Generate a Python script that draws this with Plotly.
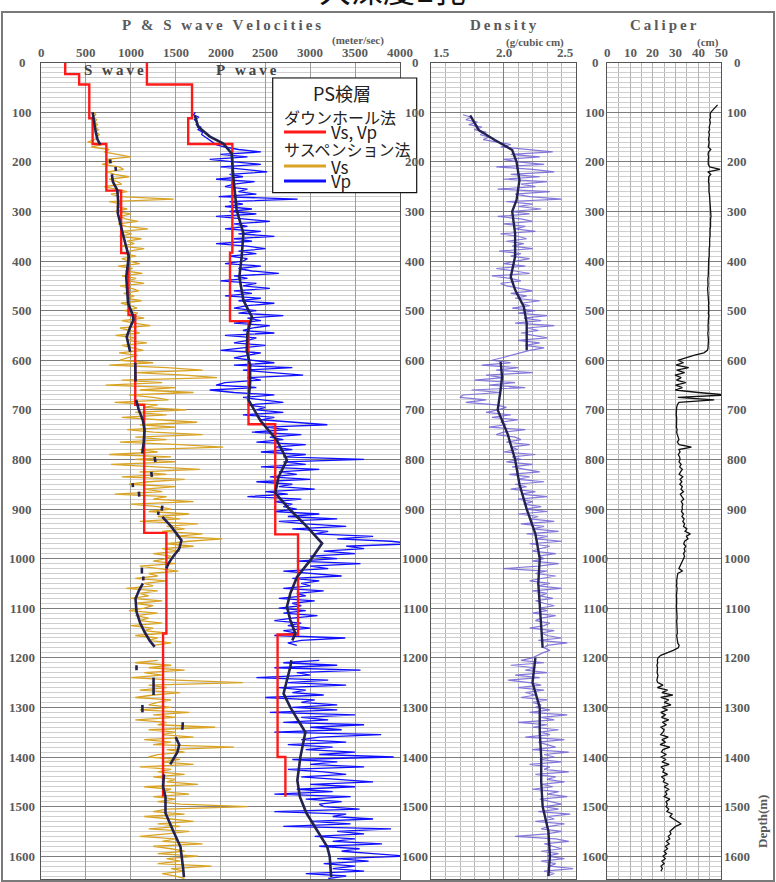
"""Well log panel: P & S wave velocities, density and caliper against depth."""

import plotly.graph_objects as go

W, H = 776, 882

# ---------------------------------------------------------------- data
DEPTH_TICKS = list(range(0, 1700, 100))
VEL_TICKS = [0, 500, 1000, 1500, 2000, 2500, 3000, 3500, 4000]
DENS_TICKS = [1.5, 2.0, 2.5]
CAL_TICKS = [0, 10, 20, 30, 40, 50]

# downhole method (layer tops, velocity of each layer, bottom of last layer)
DH_VS_TOPS = [0, 23, 44, 112, 164, 258, 384, 509, 690, 948, 1151, 1480]
DH_VS = [270, 425, 538, 575, 728, 893, 975, 1050, 1150, 1397, 1360, 1360]
DH_VP_TOPS = [0, 44, 112, 164, 383, 521, 729, 951, 1153, 1400, 1480]
DH_VP = [1180, 1683, 1640, 2132, 2106, 2312, 2610, 2864, 2636, 2723, 2723]

# suspension method, sampled every 5 m from 100 m
RAW_DEPTH = list(range(100, 1650, 5))
VS_RAW = [
    590, 610, 580, 620, 600, 630, 595, 640, 610, 650, 620, 600, 520, 680, 560, 760, 700, 860, 1000, 730,
    800, 680, 870, 920, 740, 820, 980, 760, 850, 900, 700, 830, 960, 780, 880, 1480, 760, 900, 840, 960,
    820, 1000, 880, 940, 1080, 860, 950, 1190, 900, 1010, 870, 1120, 960, 1040, 890, 1150, 980, 930, 1060, 900,
    980, 1100, 860, 1020, 940, 1130, 900, 1060, 970, 1150, 880, 1010, 1090, 920, 1040, 960, 1120, 890, 1000, 1070,
    930, 1080, 1000, 1150, 900, 1040, 1220, 880, 990, 1100, 830, 1060, 950, 1180, 900, 1010, 1140, 870, 1080, 960,
    880, 1250, 760, 1400, 1800, 1050, 1600, 1960, 900, 1350, 720, 1500, 1100, 1700, 980, 1250, 1420, 820, 1300, 1150,
    1620, 1050, 1400, 900, 1300, 1740, 1100, 1500, 960, 1250, 1800, 1050, 1400, 880, 1550, 2030, 1100, 1300, 760, 1450,
    1050, 1500, 780, 1300, 1770, 1100, 1400, 900, 1600, 1200, 980, 1500, 1150, 1350, 820, 1400, 1250, 1700, 1000, 1300,
    1450, 1200, 1650, 1300, 1550, 1100, 1750, 1400, 1600, 1350, 1800, 1500, 2020, 1650, 1400, 1700, 1350, 1550, 1250, 1450,
    1400, 1250, 1500, 1100, 1350, 1530, 1200, 1300, 1050, 1400, 1150, 1250, 950, 1300, 1100, 1200, 1000, 1350, 1050, 1250,
    1150, 980, 1300, 1050, 1200, 1100, 1350, 1000, 1250, 1150, 1400, 1050, 1300, 1200, 1450, 1250, None, None, None, None,
    None, 1300, 1050, 1450, 1200, 1600, 1150, 1350, 1000, 1500, 2250, 1200, 1400, 1100, 1550, 1250, 1050, 1450, 1300, 1200,
    1450, 1100, 1650, 1250, 1500, 1050, 1400, 1300, 1940, 1200, 1500, 1350, 1700, 1150, 1450, 1250, 2150, 1400, 1600, 1300,
    1200, 1550, 1350, 1700, 1100, 1450, 1300, 1600, 1250, 1500, 1400, 1750, 1150, 1450, 1350, 1650, 1250, 1500, 1300, 1550,
    2300, 1400, 1250, 1600, 1150, 1450, 1700, 1300, 1550, 1200, 1650, 1400, 1100, 1500, 1350, 1800, 1250, 1450, 1600, 1300,
    1750, 1400, 1550, 1300, 1900, 1450, 1600, 1350, 1500, 1600,
]
VP_RAW = [
    1720, 1700, 1760, 1710, 1740, 1730, 1780, 1750, 1800, 1790, 1830, 1870, 1900, 1950, 2050, 2200, 2450, 2000, 2300, 1880,
    2150, 2450, 2000, 2300, 2520, 2100, 2250, 1950, 2380, 2150, 2050, 2300, 2200, 2400, 1980, 2860, 2100, 2250, 2050, 2350,
    2100, 2400, 1950, 2250, 2550, 2150, 2300, 2050, 2450, 2200, 2600, 2150, 2350, 1950, 2300, 2500, 2200, 2400, 2100, 2300,
    2250, 2050, 2450, 2200, 2350, 2650, 2150, 2300, 2000, 2400, 2250, 2550, 2150, 2350, 2050, 2450, 2200, 2600, 2300, 2150,
    2400, 2200, 2700, 2300, 2450, 2150, 2550, 2350, 2250, 2600, 2050, 2400, 2300, 2150, 2500, 2250, 2000, 2450, 2300, 2150,
    2350, 2600, 2150, 2800, 2250, 2550, 2920, 2300, 2450, 2050, 1950, 2400, 1880, 2150, 2600, 2250, 2450, 2700, 2300, 2500,
    2400, 2700, 2250, 2600, 2450, 2800, 3190, 2500, 2750, 2350, 2900, 2550, 2700, 2400, 2950, 2600, 2800, 2450, 2950, 2700,
    3600, 2700, 2950, 2450, 3100, 2650, 2850, 2550, 3000, 2400, 2800, 2650, 3050, 2500, 2750, 2300, 2900, 2600, 2800, 2700,
    2850, 2600, 3100, 2750, 3300, 2650, 2950, 3400, 2800, 3200, 3050, 3700, 3300, 3900, 4150, 3400, 3600, 3150, 3500, 3000,
    3300, 2850, 3560, 3000, 3200, 2700, 3050, 3350, 2800, 3100, 2900, 3000, 2700, 3150, 2850, 2950, 2650, 3050, 2800, 2900,
    2650, 2950, 2700, 3080, 2800, 2600, 2900, 2750, 3000, 2700, 2850, 2600, 3390, 2900, 2750, 2850, None, None, None, None,
    None, 3100, 2700, 3300, 2600, 3560, 2850, 3000, 2400, 3200, 2750, 3400, 2650, 2950, 2800, 3150, 2500, 3050, 2900, 3300,
    2800, 3300, 2550, 3500, 2900, 3200, 2700, 3600, 3000, 3350, 2600, 3790, 3100, 2900, 3400, 2750, 3250, 2950, 3500, 3100,
    3930, 2800, 3300, 3000, 3600, 2750, 3150, 3400, 2900, 3300, 3700, 3000, 3500, 2850, 3250, 2600, 3450, 2950, 3350, 3100,
    3150, 3550, 2600, 3400, 3250, 3700, 3000, 3450, 2700, 3900, 3300, 3600, 3050, 3500, 3250, 3800, 3100, 3550, 3350, 3700,
    4070, 3300, 3650, 3150, 3500, 3250, 3600, 2950, 3400, 3200,
]
DENS_RAW = [
    None, 1.72, 1.78, 1.74, 1.82, 1.76, 1.85, 1.80, 1.88, 1.84, 1.90, 1.86, 1.95, 2.05, 1.98, 2.15, 2.34, 2.05, 2.25, 2.00,
    2.10, 2.28, 1.95, 2.20, 2.35, 2.05, 2.25, 2.00, 2.30, 2.12, 2.22, 1.96, 2.32, 2.08, 2.18, 2.40, 2.02, 2.20, 2.10, 2.26,
    2.05, 2.18, 1.96, 2.12, 2.20, 2.00, 2.15, 2.08, 2.22, 1.98, 2.10, 2.16, 2.02, 2.14, 2.06, 2.20, 1.97, 2.12, 2.05, 2.18,
    2.10, 2.00, 2.15, 1.95, 2.08, 2.18, 1.92, 2.05, 2.12, 1.98, 2.02, 2.10, 2.20, 2.05, 2.16, 2.08, 2.25, 2.12, 2.18, 2.06,
    2.22, 2.10, 2.30, 2.14, 2.26, 2.08, 2.35, 2.16, 2.24, 2.12, 2.20, 2.30, 2.10, 2.25, 2.15, 2.28, 2.18, 2.12, 2.05, 1.99,
    1.92, 2.05, 1.85, 2.10, 1.95, 2.20, 1.88, 2.00, 1.80, 2.08, 1.90, 2.15, 1.78, 1.98, 1.72, 1.70, 1.88, 1.74, 1.95, 2.02,
    1.96, 1.88, 2.05, 1.92, 2.10, 1.98, 2.02, 1.90, 2.15, 2.00, 1.95, 2.08, 2.12, 2.02, 2.18, 2.05, 2.10, 2.00, 2.22, 2.06,
    2.12, 2.02, 2.20, 2.06, 2.15, 2.25, 2.04, 2.18, 2.10, 2.28, 2.08, 2.16, 2.05, 2.22, 2.12, 2.30, 2.10, 2.20, 2.14, 2.26,
    2.15, 2.30, 2.10, 2.24, 2.18, 2.35, 2.12, 2.28, 2.20, 2.38, 2.16, 2.30, 2.22, 2.40, 2.18, 2.32, 2.25, 2.20, 2.36, 2.24,
    2.28, 2.20, 2.38, 2.24, 2.00, 2.30, 2.22, 2.36, 2.26, 2.18, 2.32, 2.24, 2.40, 2.20, 2.30, 2.25, 2.34, 2.22, 2.28, 2.35,
    2.24, 2.30, 2.20, 2.36, 2.26, 2.22, 2.32, 2.28, 2.18, 2.35, 2.26, 2.30, 2.40, 2.24, 2.44, 2.30, 2.28, 2.32, 2.27, 2.24,
    2.20, 2.12, 2.28, 2.05, 2.22, 2.15, 2.30, 2.08, 2.25, 2.03, 2.18, 2.26, 2.10, 2.28, 2.15, 2.22, 2.12, 2.30, 2.20, 2.26,
    2.22, 2.32, 2.18, 2.44, 2.26, 2.35, 2.10, 2.30, 2.20, 2.38, 2.25, 2.32, 2.15, 2.42, 2.24, 2.30, 2.36, 2.20, 2.45, 2.28,
    2.35, 2.25, 2.40, 2.18, 2.32, 2.28, 2.45, 2.22, 2.36, 2.30, 2.42, 2.26, 2.34, 2.20, 2.38, 2.30, 2.44, 2.25, 2.33, 2.40,
    2.28, 2.38, 2.24, 2.46, 2.30, 2.35, 2.22, 2.42, 2.32, 2.26, 2.40, 2.30, 2.08, 2.36, 2.45, 2.28, 2.34, 2.40, 2.26, 2.38,
    2.30, 2.42, 2.26, 2.36, 2.32, 2.48, 2.28, 2.35, 2.30, None,
]

CAL_DEPTH = list(range(85, 1650, 5))
CALIPER = [
    48.5, 47.5, 46.5,
    45.5, 45.2, 45.4, 45.0, 45.3, 45.1, 44.8, 45.0, 44.6, 44.9, 44.7, 44.5, 44.8, 44.6, 44.4, 45.5, 44.5, 44.3, 44.6, 44.4,
    44.5, 44.4, 45.0, 49.6, 44.2, 45.5, 44.6, 44.4, 44.5, 44.7, 44.6, 44.8, 44.7, 44.9, 45.0, 45.2, 45.3, 45.4, 45.5, 45.6,
    45.5, 45.5, 45.6, 45.4, 45.5, 45.3, 45.4, 45.2, 45.3, 45.1, 45.2, 45.0, 45.1, 44.9, 45.0, 44.8, 44.9, 44.7, 44.8, 44.6,
    44.6, 44.5, 44.6, 44.4, 44.5, 44.3, 44.4, 44.2, 44.3, 44.2, 44.3, 44.1, 44.2, 44.4, 44.3, 44.5, 44.4, 44.6, 44.5, 44.6,
    44.6, 44.4, 44.7, 44.5, 44.6, 44.4, 44.3, 44.5, 44.4, 44.2, 44.4, 44.3, 44.5, 44.4, 44.5, 44.3, 44.0, 42.5, 38.0, 34.0,
    31.0, 33.5, 30.2, 35.8, 30.5, 34.0, 29.8, 32.5, 30.4, 34.5, 30.0, 33.0, 29.9, 40.0, 52.5, 31.0, 47.0, 31.5, 30.8, 30.5,
    30.4, 30.6, 30.3, 30.5, 30.4, 30.6, 30.5, 30.4, 30.7, 30.5, 30.8, 31.0, 31.5, 30.8, 31.6, 37.0, 31.5, 32.0, 31.2, 31.8,
    32.0, 31.5, 32.5, 31.8, 33.0, 32.2, 31.6, 33.2, 32.0, 32.8, 31.9, 33.0, 32.4, 33.5, 32.1, 32.8, 33.6, 32.5, 33.2, 32.9,
    33.0, 32.6, 33.5, 32.8, 33.8, 33.2, 34.0, 33.5, 35.0, 34.2, 36.5, 34.8, 35.5, 34.0, 33.6, 34.5, 33.8, 34.2, 33.5, 34.0,
    33.5, 33.0, 32.5, 32.0, 31.5, 33.0, 31.0, 30.8, 30.6, 30.5, 30.6, 30.4, 30.7, 30.5, 30.6, 30.4, 30.5, 30.6, 30.5, 30.4,
    30.5, 30.6, 30.4, 30.5, 30.7, 30.5, 30.6, 30.4, 30.5, 30.6, 30.8, 30.5, 30.7, 30.6, 31.0, 31.6, 31.2, 29.0, 26.0, 23.5,
    22.3, 22.0, 22.2, 21.8, 22.1, 22.0, 21.9, 22.3, 22.0, 21.8, 22.2, 24.5, 22.0, 26.5, 24.0, 28.8, 23.5, 27.0, 25.0, 28.0,
    24.0, 26.5, 23.5, 25.5, 23.8, 27.0, 24.2, 26.0, 23.6, 25.0, 24.5, 23.5, 26.8, 24.0, 25.5, 23.2, 27.5, 24.5, 23.8, 26.0,
    23.5, 25.8, 24.0, 27.2, 23.6, 25.0, 24.4, 26.5, 23.8, 25.2, 24.6, 26.8, 25.0, 27.0, 25.5, 26.2, 25.0, 27.5, 25.8, 26.4,
    25.8, 27.0, 26.2, 28.5, 27.5, 29.0, 31.0, 32.5, 30.0, 28.5, 27.5, 28.0, 26.8, 27.5, 26.0, 27.2, 25.5, 26.5, 25.0, 26.0,
    24.5, 25.5, 24.0, 25.0, 23.6, 24.2, 23.6, None, None, None,
]

# smoothed trend curves (None = break in the curve)
VS_SMOOTH_DEPTH = [
    100, 120, 140, 155, 165, None, 195, 203, None, 210, 218, None,
    225, 240, 257, 280, 303, 330, 351, 391, 432, 485, 509, 519, 535, 553, 570, 583, None,
    605, 625, 643, None, 680, 700, 721, 741, 765, 788, None,
    795, 805, None, 825, 835, None, 848, 856, None, 865, 875, None, 893, 903, None, 905, 912, None,
    916, 935, 963, 980, 996, 1010, 1020, None, 1018, 1030, None, 1036, 1044, None,
    1050, 1065, 1081, 1107, 1130, 1148, 1165, 1178, None, 1215, 1225, None, 1240, 1275, None,
    1295, 1310, None, 1330, 1345, None, 1360, 1375, 1390, 1405, 1415, None,
    1435, 1460, 1480, 1513, 1548, 1581, 1622, 1642,
]
VS_SMOOTH = [
    575, 590, 610, 630, 660, None, 770, 775, None, 830, 835, None,
    790, 800, 850, 860, 855, 890, 920, 978, 950, 970, 1023, 1030, 990, 955, 975, 993, None,
    1050, 1055, 1053, None, 1060, 1090, 1135, 1154, 1145, 1128, None,
    1266, 1275, None, 1229, 1235, None, 1020, 1025, None, 1090, 1095, None, 1352, 1345, None, 1310, 1305, None,
    1352, 1450, 1565, 1540, 1471, 1420, 1397, None, 1124, 1124, None, 1140, 1140, None,
    1135, 1090, 1053, 1064, 1105, 1154, 1210, 1266, None, 1064, 1064, None, 1254, 1254, None,
    1130, 1130, None, 1580, 1575, None, 1500, 1540, 1520, 1470, 1440, None,
    1370, 1360, 1387, 1387, 1471, 1554, 1582, 1593,
]
VP_SMOOTH_DEPTH = [
    106, 129, 149, 163, 183, 230, 297, 344, 391, 432, 479, 512, 546, 580, 610, 646, 680, 721,
    761, 801, 835, 868, 902, 936, 969, 1003, 1037, 1070, 1097, 1124, 1151, 1165, None,
    1205, 1218, 1272, 1300, 1350, 1400, 1447, 1480, 1513, 1548, 1581, 1601, 1642,
]
VP_SMOOTH = [
    1714, 1751, 1882, 2031, 2124, 2143, 2180, 2255, 2236, 2210, 2255, 2349, 2300, 2292, 2330, 2330, 2312, 2442,
    2628, 2740, 2647, 2610, 2778, 2965, 3132, 3002, 2853, 2778, 2740, 2778, 2834, 2800, None,
    2790, 2778, 2703, 2778, 2946, 2890, 2856, 2884, 2957, 3078, 3189, 3217, 3233,
]
DENS_SMOOTH_DEPTH = [
    106, 136, 156, 176, 200, 237, 277, 300, 344, 391, 432, 458, 492, 525, 580, None,
    603, 633, 660, 700, 750, 800, 850, 900, 950, 1000, 1050, 1100, 1150, 1180, None,
    1200, 1250, 1300, 1350, 1400, 1450, 1500, 1550, 1600, 1640,
]
DENS_SMOOTH = [
    1.77, 1.83, 1.94, 2.06, 2.09, 2.11, 2.09, 2.06, 2.08, 2.08, 2.05, 2.08, 2.14, 2.16, 2.16, None,
    1.98, 1.99, 1.98, 1.96, 2.03, 2.08, 2.11, 2.16, 2.22, 2.25, 2.24, 2.25, 2.26, 2.27, None,
    2.22, 2.20, 2.25, 2.25, 2.26, 2.26, 2.27, 2.31, 2.32, 2.31,
]

LEGEND_ROWS = [
    ("PS検層", None),
    ("ダウンホール法", None),
    ("Vs, Vp", "#ff1a1a"),
    ("サスペンション法", None),
    ("Vs", "#d9a425"),
    ("Vp", "#1010ff"),
]

# ---------------------------------------------------------------- style
SERIF = "Liberation Serif"
CJK = "Noto Sans CJK JP"
LABEL_GREY = "#5a5a5a"
NAVY = "#22224e"
MAJOR_GRID = "#7d7d7d"
MINOR_GRID = "#cfcfcf"
BORDER = "#555555"

DEPTH_MAX = 1646
PLOT_TOP, PLOT_BOTTOM = 62.7, 879.0


def px_x(x):
    return x / W


def px_y(y):
    return 1 - y / H


def depth_axis(anchor):
    return dict(
        domain=[px_y(PLOT_BOTTOM), px_y(PLOT_TOP)],
        range=[DEPTH_MAX, 0],
        anchor=anchor,
        dtick=100,
        showgrid=True,
        gridcolor=MAJOR_GRID,
        gridwidth=1,
        minor=dict(dtick=10, showgrid=True, gridcolor=MINOR_GRID, gridwidth=1),
        showticklabels=False,
        ticks="",
        zeroline=False,
        showline=True,
        mirror=True,
        linecolor=BORDER,
        linewidth=1,
    )


def value_axis(left, right, rng, dtick, grid, minor_dtick, minor_grid, anchor):
    return dict(
        domain=[px_x(left), px_x(right)],
        range=rng,
        anchor=anchor,
        dtick=dtick,
        showgrid=True,
        gridcolor=grid,
        minor=dict(dtick=minor_dtick, showgrid=True, gridcolor=minor_grid),
        showticklabels=False,
        ticks="",
        zeroline=False,
        showline=True,
        mirror=True,
        linecolor=BORDER,
        linewidth=1,
    )


def step_curve(tops, values):
    return dict(x=values, y=tops, mode="lines", line_shape="vh")


fig = go.Figure()

# velocity panel
fig.add_trace(go.Scatter(x=VS_RAW, y=RAW_DEPTH, mode="lines",
                         line=dict(color="#d9a425", width=1.3), xaxis="x", yaxis="y"))
fig.add_trace(go.Scatter(x=VP_RAW, y=RAW_DEPTH, mode="lines",
                         line=dict(color="#1010ff", width=1.3), xaxis="x", yaxis="y"))
fig.add_trace(go.Scatter(**step_curve(DH_VS_TOPS, DH_VS),
                         line=dict(color="#ff1a1a", width=2.4), xaxis="x", yaxis="y"))
fig.add_trace(go.Scatter(**step_curve(DH_VP_TOPS, DH_VP),
                         line=dict(color="#ff1a1a", width=2.4), xaxis="x", yaxis="y"))
fig.add_trace(go.Scatter(x=VS_SMOOTH, y=VS_SMOOTH_DEPTH, mode="lines",
                         line=dict(color=NAVY, width=2.6), xaxis="x", yaxis="y"))
fig.add_trace(go.Scatter(x=VP_SMOOTH, y=VP_SMOOTH_DEPTH, mode="lines",
                         line=dict(color=NAVY, width=2.6), xaxis="x", yaxis="y"))

# density panel
fig.add_trace(go.Scatter(x=DENS_RAW, y=RAW_DEPTH, mode="lines",
                         line=dict(color="rgba(110,96,214,0.85)", width=1.2), xaxis="x2", yaxis="y2"))
fig.add_trace(go.Scatter(x=DENS_SMOOTH, y=DENS_SMOOTH_DEPTH, mode="lines",
                         line=dict(color=NAVY, width=2.4), xaxis="x2", yaxis="y2"))

# caliper panel
fig.add_trace(go.Scatter(x=CALIPER, y=CAL_DEPTH, mode="lines",
                         line=dict(color="#111111", width=1.3), xaxis="x3", yaxis="y3"))

fig.update_traces(showlegend=False, hoverinfo="skip")

annotations = []


def label(x, y, text, size=13, color=LABEL_GREY, family=SERIF, xref="paper", yref="paper",
          xanchor="center", yanchor="middle", **kw):
    annotations.append(dict(x=x, y=y, xref=xref, yref=yref, text=text, showarrow=False,
                            xanchor=xanchor, yanchor=yanchor,
                            font=dict(size=size, color=color, family=family), **kw))


# depth labels on both sides of every panel
for col_x, yref in [(22, "y"), (415, "y"), (595, "y2"), (737, "y3")]:
    for d in DEPTH_TICKS:
        label(px_x(col_x), d, f"<b>{d}</b>", yref=yref)

# top tick labels
for v in VEL_TICKS:
    label(v, px_y(52), f"<b>{v}</b>", xref="x")
for v, anchor in zip(DENS_TICKS, ["left", "center", "right"]):
    label(v, px_y(52), f"<b>{v:.1f}</b>", xref="x2", xanchor=anchor)
for v in CAL_TICKS:
    label(v, px_y(52), f"<b>{v}</b>", xref="x3")

# panel titles
spaced = "\u2009".join
label(px_x(221), px_y(25), "<b>" + spaced("P & S wave Velocities") + "</b>", size=15)
label(px_x(358), px_y(41), "<b>(meter/sec)</b>", size=11)
label(px_x(503), px_y(25), "<b>" + spaced("Density") + "</b>", size=15)
label(px_x(535), px_y(42), "<b>(g/cubic cm)</b>", size=11)
label(px_x(663), px_y(25), "<b>" + spaced("Caliper") + "</b>", size=15)
label(px_x(708), px_y(42), "<b>(cm)</b>", size=11)
label(px_x(114), px_y(70), "<b>" + spaced("S wave") + "</b>", size=15, color="#444444")
label(px_x(247), px_y(70), "<b>" + spaced("P wave") + "</b>", size=15, color="#444444")
label(px_x(762), px_y(822), "<b>Depth(m)</b>", size=13, textangle=-90)
label(px_x(392), px_y(13), "大深度E孔", size=32, color="#111111", family=CJK, yanchor="bottom")

# legend box contents
box_l, box_t, box_r, box_b = 272.7, 78.0, 416.7, 192.7
row_y = [93, 117, 132, 149, 166, 181]
shapes = [
    dict(type="rect", xref="paper", yref="paper", x0=px_x(box_l), x1=px_x(box_r),
         y0=px_y(box_b), y1=px_y(box_t), fillcolor="white", line=dict(color="#111111", width=1.2),
         layer="above"),
]
for (text, color), y in zip(LEGEND_ROWS, row_y):
    if text == "PS検層":
        label(px_x(342), px_y(y), text, size=18, color="#222222", family=CJK)
    elif color is None:
        label(px_x(282), px_y(y), text, size=16, color="#222222", family=CJK, xanchor="left")
    else:
        shapes.append(dict(type="line", xref="paper", yref="paper", x0=px_x(284), x1=px_x(326),
                           y0=px_y(y), y1=px_y(y), line=dict(color=color, width=3), layer="above"))
        label(px_x(329), px_y(y), text, size=17, color="#222222", family=CJK, xanchor="left")

# darker reference line at 30 cm
shapes.append(dict(type="line", xref="x3", yref="paper", x0=30, x1=30,
                   y0=px_y(PLOT_BOTTOM), y1=px_y(PLOT_TOP), line=dict(color=MAJOR_GRID, width=1),
                   layer="between"))
# outer frame
shapes.append(dict(type="rect", xref="paper", yref="paper", x0=px_x(2), x1=px_x(774),
                   y0=px_y(881), y1=px_y(12), line=dict(color="#7a7a7a", width=2)))

fig.update_layout(
    width=W,
    height=H,
    margin=dict(l=0, r=0, t=0, b=0, autoexpand=False),
    paper_bgcolor="white",
    plot_bgcolor="white",
    showlegend=False,
    xaxis=value_axis(41, 400, [0, 4000], 500, "#9c9c9c", 500, "#9c9c9c", "y"),
    yaxis=depth_axis("x"),
    xaxis2=value_axis(431, 576, [1.5, 2.5], 0.5, MAJOR_GRID, 0.1, "#b4b4b4", "y2"),
    yaxis2=depth_axis("x2"),
    xaxis3=value_axis(607.3, 721, [0, 50], 10, "#b4b4b4", 5, "#b4b4b4", "y3"),
    yaxis3=depth_axis("x3"),
    annotations=annotations,
    shapes=shapes,
)

# the page's default body margin would push the figure 8 px off the window
fig.write_html("out.html", config={"displayModeBar": False},
               post_script="document.body.style.margin='0';")
